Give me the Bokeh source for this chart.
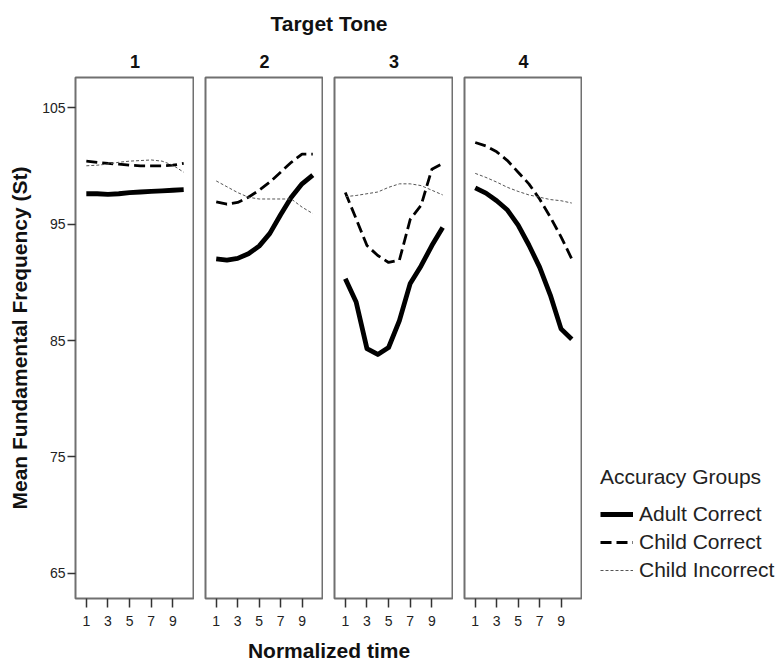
from bokeh.plotting import figure
from bokeh.layouts import column, row
from bokeh.models import Range1d, FixedTicker, Legend, LegendItem, ColumnDataSource
from bokeh.embed import file_html
from bokeh.resources import INLINE
from bokeh.core.validation import silence
from bokeh.core.validation.warnings import MISSING_RENDERERS

silence(MISSING_RENDERERS, True)

FONT = "Liberation Sans"

# ---------------- data ----------------
time = [1, 2, 3, 4, 5, 6, 7, 8, 9, 10]
tones = ["1", "2", "3", "4"]
groups = ["Adult Correct", "Child Correct", "Child Incorrect"]

adult_t1 = [97.6, 97.6, 97.55, 97.6, 97.7, 97.75, 97.8, 97.85, 97.9, 97.95]
child_c_t1 = [100.4, 100.3, 100.2, 100.15, 100.05, 100.0, 100.0, 100.0, 100.05, 100.2]
child_i_t1 = [100.0, 100.05, 100.15, 100.3, 100.4, 100.45, 100.5, 100.4, 100.05, 99.45]

adult_t2 = [92.0, 91.9, 92.05, 92.45, 93.1, 94.2, 95.8, 97.3, 98.45, 99.2]
child_c_t2 = [96.9, 96.7, 96.85, 97.3, 97.9, 98.6, 99.45, 100.3, 101.0, 101.0]
child_i_t2 = [98.7, 98.2, 97.7, 97.3, 97.15, 97.15, 97.15, 97.15, 96.45, 95.9]

adult_t3 = [90.3, 88.3, 84.3, 83.8, 84.4, 86.7, 89.9, 91.4, 93.15, 94.7]
child_c_t3 = [97.7, 95.45, 93.15, 92.3, 91.7, 91.9, 95.4, 96.6, 99.7, 100.2]
child_i_t3 = [97.35, 97.45, 97.6, 97.75, 98.15, 98.45, 98.45, 98.3, 97.9, 97.5]

adult_t4 = [98.1, 97.65, 97.0, 96.2, 94.9, 93.2, 91.3, 88.9, 86.0, 85.1]
child_c_t4 = [102.0, 101.7, 101.2, 100.45, 99.45, 98.45, 97.15, 95.6, 93.9, 92.0]
child_i_t4 = [99.35, 99.0, 98.6, 98.15, 97.8, 97.5, 97.3, 97.1, 97.0, 96.8]

x_ticks = [1, 3, 5, 7, 9]
y_ticks = [65, 75, 85, 95, 105]

series = {
    "1": [adult_t1, child_c_t1, child_i_t1],
    "2": [adult_t2, child_c_t2, child_i_t2],
    "3": [adult_t3, child_c_t3, child_i_t3],
    "4": [adult_t4, child_c_t4, child_i_t4],
}

styles = [
    dict(line_color="#000000", line_width=4.8, line_dash="solid"),
    dict(line_color="#000000", line_width=2.8, line_dash="11 5"),
    dict(line_color="#555555", line_width=1.0, line_dash="3 2"),
]

# ---------------- layout ----------------
y_range = Range1d(62.85, 107.58)
widths = [194, 129, 130, 129]
left_b = [75, 11, 11, 11]
ROW_H = 592

figs = []
for i, tone in enumerate(tones):
    p = figure(width=widths[i], height=ROW_H, x_range=Range1d(0, 11), y_range=y_range,
               output_backend="svg", toolbar_location=None,
               min_border_left=left_b[i], min_border_right=0,
               min_border_top=37, min_border_bottom=34,
               y_axis_location="left" if i == 0 else None,
               title=tone)
    p.title.align = "center"
    p.title.text_font = FONT
    p.title.text_font_size = "18px"
    p.title.text_font_style = "bold"
    p.title.text_color = "#111111"
    p.title.standoff = 19
    p.outline_line_color = "#707070"
    p.outline_line_width = 2
    p.grid.visible = False

    xa = p.xaxis[0]
    xa.ticker = FixedTicker(ticks=x_ticks)
    xa.axis_line_color = None
    xa.major_tick_out = 9
    xa.major_tick_in = 0
    xa.minor_tick_out = 0
    xa.minor_tick_in = 0
    xa.major_tick_line_color = "#333333"
    xa.major_tick_line_width = 1.5
    xa.major_label_text_font = FONT
    xa.major_label_text_font_size = "14px"
    xa.major_label_text_color = "#222222"
    xa.major_label_standoff = 8

    if i == 0:
        ya = p.yaxis[0]
        ya.ticker = FixedTicker(ticks=y_ticks)
        ya.axis_line_color = None
        ya.major_tick_out = 8
        ya.major_tick_in = 0
        ya.minor_tick_out = 0
        ya.minor_tick_in = 0
        ya.major_tick_line_color = "#333333"
        ya.major_tick_line_width = 1.5
        ya.major_label_text_font = FONT
        ya.major_label_text_font_size = "14px"
        ya.major_label_text_color = "#222222"
        ya.major_label_standoff = 2
        ya.axis_label = "Mean Fundamental Frequency (St)"
        ya.axis_label_text_font = FONT
        ya.axis_label_text_font_size = "21px"
        ya.axis_label_text_font_style = "bold"
        ya.axis_label_text_color = "#111111"
        ya.axis_label_standoff = 8

    for vals, st in zip(series[tone], styles):
        src = ColumnDataSource(dict(x=time, y=vals))
        p.line("x", "y", source=src, line_join="round", **st)
    figs.append(p)

# legend panel: hidden copies of the tone-4 lines serve only as legend keys
lf = figure(width=196, height=ROW_H, x_range=Range1d(0, 11), y_range=y_range,
            output_backend="svg", toolbar_location=None,
            x_axis_location=None, y_axis_location=None,
            min_border_left=0, min_border_right=0, min_border_top=0, min_border_bottom=0)
lf.outline_line_color = None
lf.grid.visible = False
keys = []
for vals, st in zip(series["4"], styles):
    r = lf.line(x=time, y=vals, line_join="round", **st)
    r.visible = False
    keys.append(r)
legend = Legend(items=[LegendItem(label=g, renderers=[r]) for g, r in zip(groups, keys)],
                title="Accuracy Groups", location=(18, 16))
legend.label_text_font = FONT
legend.label_text_font_size = "21px"
legend.label_text_color = "#222222"
legend.title_text_font = FONT
legend.title_text_font_size = "21px"
legend.title_text_font_style = "normal"
legend.title_text_color = "#222222"
legend.title_standoff = 13
legend.glyph_width = 33
legend.glyph_height = 22
legend.label_height = 22
legend.label_standoff = 6
legend.spacing = 4
legend.padding = 0
legend.margin = 0
legend.border_line_color = None
legend.background_fill_alpha = 0
legend.inactive_fill_alpha = 0
legend.click_policy = "none"
lf.add_layout(legend)


def text_strip(text, h, top):
    s = figure(width=778, height=h, output_backend="svg", toolbar_location=None,
               x_axis_location=None, y_axis_location=None,
               min_border_left=75, min_border_right=196,
               min_border_top=top, min_border_bottom=0, title=text)
    s.title.align = "center"
    s.title.text_font = FONT
    s.title.text_font_size = "21px"
    s.title.text_font_style = "bold"
    s.title.text_color = "#111111"
    s.title.standoff = 0
    s.outline_line_color = None
    s.grid.visible = False
    return s


header = text_strip("Target Tone", 40, 34)
footer = text_strip("Normalized time", 30, 29)

layout = column(header, row(*figs, lf), footer)
open("out.html", "w").write(file_html(layout, INLINE))
